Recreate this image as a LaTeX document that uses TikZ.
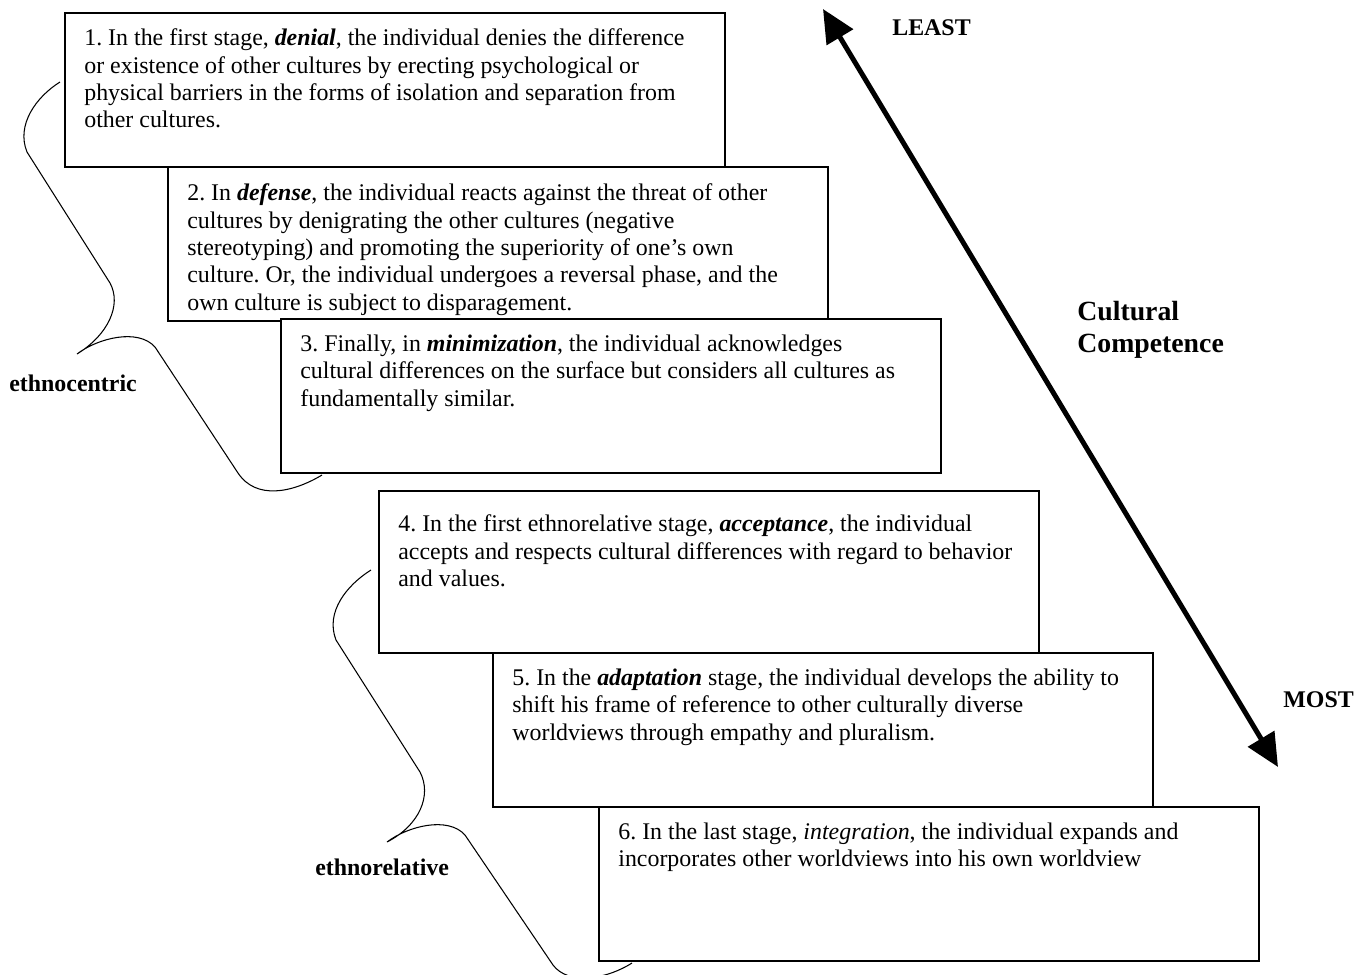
\documentclass[tikz,border=0pt]{standalone}
\usepackage{fontspec}
\setmainfont{Liberation Serif}
\usetikzlibrary{positioning}
\usetikzlibrary{arrows.meta}
\frenchspacing

\tikzset{
stagebox/.style={draw, line width=1pt, fill=white, anchor=north west, inner sep=0pt, minimum width=13.2cm, minimum height=3.08cm},
stagetext/.style={anchor=north west, inner sep=0pt, align=left, font=\fontsize{13.6}{15.6}\selectfont},
sidelabel/.style={font=\bfseries\fontsize{13.6}{15.6}\selectfont, inner sep=0pt},
bracket/.style={line width=0.6pt},
scalearrow/.style={line width=2.85pt, {Triangle[length=6.6mm,width=6mm]}-{Triangle[length=6.6mm,width=6mm]}}
}

\begin{document}
\begin{tikzpicture}[x=0.02cm, y=-0.02cm]

\useasboundingbox (0,0) rectangle (1368,974);


% the six stages, corners in pixels
\node[stagebox] (stage1) at (64,12) {};
\node[stagetext] (text1) at ([shift={(20,16.5)}]stage1.north west)
{1. In the first stage, \textbf{\textit{denial}}, the individual denies the difference\\
or existence of other cultures by erecting psychological or\\
physical barriers in the forms of isolation and separation from\\
other cultures.};

\node[stagebox] (stage2) at (167,166) {};
\node[stagetext] (text2) at ([shift={(20,17.5)}]stage2.north west)
{2. In \textbf{\textit{defense}}, the individual reacts against the threat of other\\
cultures by denigrating the other cultures (negative\\
stereotyping) and promoting the superiority of one’s own\\
culture. Or, the individual undergoes a reversal phase, and the\\
own culture is subject to disparagement.};

\node[stagebox] (stage3) at (280,318) {};
\node[stagetext] (text3) at ([shift={(20,16.5)}]stage3.north west)
{3. Finally, in \textbf{\textit{minimization}}, the individual acknowledges\\
cultural differences on the surface but considers all cultures as\\
fundamentally similar.};

\node[stagebox, minimum height=3.24cm] (stage4) at (378,490) {};
\node[stagetext] (text4) at ([shift={(20,24.5)}]stage4.north west)
{4. In the first ethnorelative stage, \textbf{\textit{acceptance}}, the individual\\
accepts and respects cultural differences with regard to behavior\\
and values.};

\node[stagebox] (stage5) at (492,652) {};
\node[stagetext] (text5) at ([shift={(20,16.5)}]stage5.north west)
{5. In the \textbf{\textit{adaptation}} stage, the individual develops the ability to\\
shift his frame of reference to other culturally diverse\\
worldviews through empathy and pluralism.};

\node[stagebox] (stage6) at (598,806) {};
\node[stagetext] (text6) at ([shift={(20,16.5)}]stage6.north west)
{6. In the last stage, \textit{integration}, the individual expands and\\
incorporates other worldviews into his own worldview};


% braces
\draw[bracket] (60,82) .. controls (36,97) and (16,125) .. (27,152) -- (110,283)
.. controls (122,305) and (108,335) .. (77,354)
.. controls (98,338) and (138,328) .. (155,347) -- (238,473)
.. controls (256,500) and (292,493) .. (322,475);

\draw[bracket] (371,570) .. controls (347,585) and (325,612) .. (336,640) -- (420,772)
.. controls (432,795) and (420,825) .. (387,842)
.. controls (408,826) and (448,816) .. (465,835) -- (553,965)
.. controls (568,985) and (605,980) .. (632,963);

\node[sidelabel, anchor=base west] (ethnocentric) at (9,391) {ethnocentric};
\node[sidelabel, anchor=base west] (ethnorelative) at (315,875) {ethnorelative};


% competence scale
\coordinate (leastend) at (823,9);
\coordinate (mostend) at (1278,767);
\draw[scalearrow] (mostend) -- (leastend);

\node[sidelabel, anchor=base west] (least) at (892,35) {LEAST};
\node[sidelabel, anchor=base west] (most) at (1283,707) {MOST};
\node[anchor=north west, inner sep=0pt, align=left, font=\bfseries\fontsize{15.8}{18.2}\selectfont] (competence) at (1077,301)
{Cultural\\ Competence};

\end{tikzpicture}
\end{document}
